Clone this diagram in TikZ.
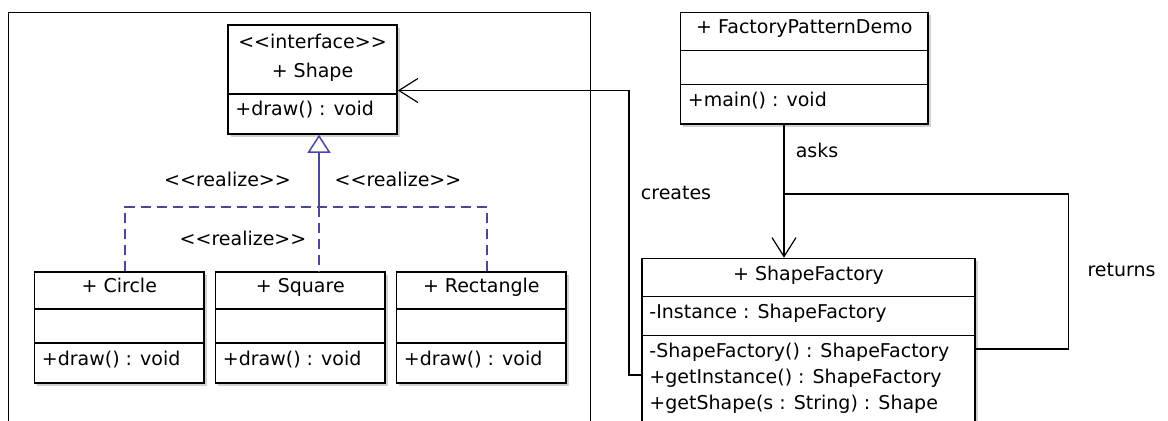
\documentclass[tikz,border=0pt]{standalone}
\usepackage{fontspec}
\newfontfamily\djv{DejaVu Sans}
\usetikzlibrary{arrows.meta,shadows,fit}
\definecolor{realblue}{RGB}{72,72,160}
\begin{document}
\begin{tikzpicture}[x=0.5pt,y=-0.5pt,
  every node/.style={font=\djv\fontsize{9.5}{12}\selectfont},
  cls/.style={draw, fill=white, line width=0.8pt, inner sep=0pt,
    drop shadow={shadow xshift=1.3pt, shadow yshift=-1.3pt, opacity=0.18, fill=black}},
  framebox/.style={draw, line width=0.75pt, inner sep=0pt},
  txt/.style={anchor=base west, inner sep=0pt},
  ctxt/.style={anchor=base, inner sep=0pt},
  sep/.style={line width=0.8pt},
  conn/.style={line width=0.6pt},
  assoc/.style={conn, -{Straight Barb[length=9.5pt,width=12pt,line width=0.6pt]}},
  realize/.style={color=realblue, line width=0.75pt},
  dsh/.style={realize, dash pattern=on 5pt off 3pt},
]
\useasboundingbox (0,0) rectangle (1168,421);
\fill[white] (0,0) rectangle (1168,421);

% frame
\node[framebox, fit={(8.5,12.7) (590.5,440)}] (frame) {};

% Shape interface
\node[cls, fit={(228,25) (397,134)}] (shape) {};
\draw[sep] (228,94) -- (397,94);
\node[ctxt] (shapes) at (312.5,49) {<<interface>>};
\node[ctxt] (shapen) at (312.5,78) {+ Shape};
\node[txt] (shapem) at (235,116) {+draw() : void};

% Circle
\node[cls, fit={(34.5,272) (204,383)}] (circle) {};
\draw[sep] (34.5,309) -- (204,309);
\draw[sep] (34.5,343) -- (204,343);
\node[ctxt] (circlen) at (119.3,293) {+ Circle};
\node[txt] (circlem) at (41.5,366) {+draw() : void};

% Square
\node[cls, fit={(215.5,272) (385,383)}] (square) {};
\draw[sep] (215.5,309) -- (385,309);
\draw[sep] (215.5,343) -- (385,343);
\node[ctxt] (squaren) at (300.3,293) {+ Square};
\node[txt] (squarem) at (222.5,366) {+draw() : void};

% Rectangle
\node[cls, fit={(396.5,272) (566,383)}] (rect) {};
\draw[sep] (396.5,309) -- (566,309);
\draw[sep] (396.5,343) -- (566,343);
\node[ctxt] (rectn) at (481.3,293) {+ Rectangle};
\node[txt] (rectm) at (403.5,366) {+draw() : void};

% FactoryPatternDemo
\node[cls, fit={(680.5,12.7) (928,124)}] (demo) {};
\draw[sep] (680.5,50.7) -- (928,50.7);
\draw[sep] (680.5,84.7) -- (928,84.7);
\node[ctxt] (demon) at (804.3,34) {+ FactoryPatternDemo};
\node[txt] (demom) at (687.5,107) {+main() : void};

% ShapeFactory
\node[cls, fit={(642,258.5) (975,445)}] (sf) {};
\draw[sep] (642,296.5) -- (975,296.5);
\draw[sep] (642,335.5) -- (975,335.5);
\node[ctxt] (sfn) at (808.5,281) {+ ShapeFactory};
\node[txt] (sfa) at (649,319) {-Instance : ShapeFactory};
\node[txt] (sfm1) at (649,358) {-ShapeFactory() : ShapeFactory};
\node[txt] (sfm2) at (649,384) {+getInstance() : ShapeFactory};
\node[txt] (sfm3) at (649,410) {+getShape(s : String) : Shape};

% realizations
\coordinate (jc) at (125,207);
\coordinate (j) at (319,207);
\coordinate (jr) at (487,207);
\draw[dsh] (jc |- circle.north) -- (jc) -- (jr) -- (jr |- rect.north);
\draw[dsh] (j) -- (j |- square.north);
\draw[realize, -{Triangle[open, length=9pt, width=11.5pt, line width=0.75pt]}] (j) -- (j |- shape.south);
\node[ctxt] (r1) at (227.5,187) {<<realize>>};
\node[ctxt] (r2) at (398,187) {<<realize>>};
\node[ctxt] (r3) at (243,246) {<<realize>>};

% creates
\coordinate (crA) at (629,375);
\coordinate (crB) at (629,90.5);
\draw[assoc] (sf.west |- crA) -- (crA) -- (crB) -- (crB -| shape.east);
\node[ctxt] (crl) at (676,200) {creates};

% asks
\coordinate (ak) at (784,194);
\draw[assoc] (ak |- demo.south) -- (ak |- sf.north);
\node[ctxt] (akl) at (817,158) {asks};

% returns
\coordinate (rt) at (1068.5,349);
\draw[conn] (ak) -| (rt) -- (rt -| sf.east);
\node[ctxt] (rtl) at (1121.5,277) {returns};
\end{tikzpicture}
\end{document}
